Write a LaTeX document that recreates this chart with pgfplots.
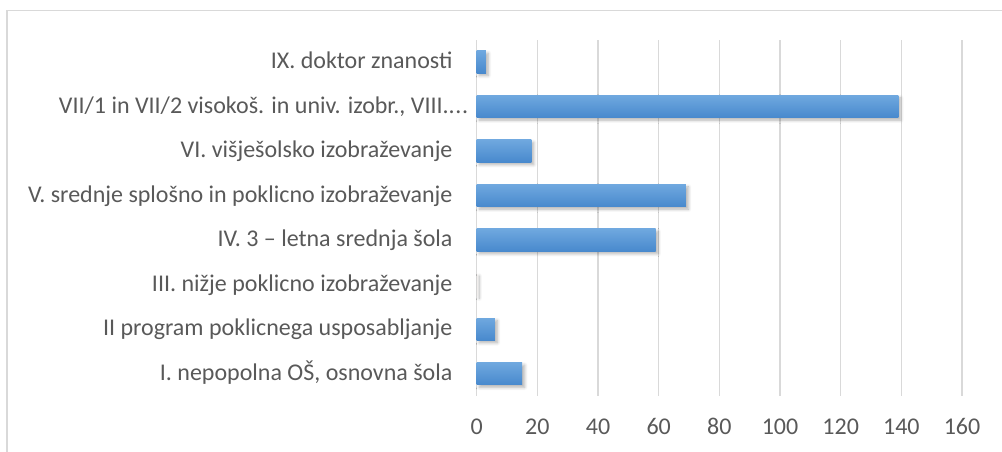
\documentclass[border=0pt]{standalone}
\usepackage{fontspec}
\setmainfont{Carlito}
\usepackage{pgfplots}
\pgfplotsset{compat=1.18}
\usetikzlibrary{shadows,shadows.blur}
\definecolor{txt}{HTML}{595959}
\definecolor{gridc}{HTML}{D9D9D9}
\definecolor{bartop}{HTML}{6FA8DF}
\definecolor{barbot}{HTML}{4889CD}
\newcommand{\dotsx}{.\kern0.03em.\kern0.03em.}
\begin{document}
\fontsize{24}{28}\selectfont
\begin{tikzpicture}[x=1pt,y=1pt]
\path[use as bounding box] (0,0) rectangle (1002,452);
\draw[gridc, line width=1.5pt] (7,0) -- (7,441.5) -- (1002,441.5);
\begin{axis}[
 at={(476.7pt,56pt)}, anchor=south west,
 scale only axis, width=485.3pt, height=356.3pt,
 xmin=0, xmax=160, ymin=-0.5, ymax=7.5,
 xtick={0,20,...,160},
 ytick={0,...,7},
 yticklabels={{I. nepopolna OŠ, osnovna šola},
   {II program poklicnega usposabljanje},
   {III. nižje poklicno izobraževanje},
   {IV. 3 -- letna srednja šola},
   {V. srednje splošno in poklicno izobraževanje},
   {VI. višješolsko izobraževanje},
   {VII/1 in VII/2 visokoš. in univ. izobr., VIII.\dotsx\hspace*{-16pt}},
   {IX. doktor znanosti}},
 axis line style={draw=none},
 xmajorgrids, grid style={gridc, line width=1.5pt},
 major tick length=0pt,
 tick label style={txt, font=\fontsize{24}{28}\selectfont},
 xticklabel style={anchor=base, yshift=-39pt},
 yticklabel style={anchor=base east, inner sep=0pt, xshift=-24pt, yshift=-6.5pt},
 /pgf/number format/assume math mode=true,
 xbar, bar width=22.3pt, bar shift=0pt,
 clip=false,
 every axis plot/.append style={draw=none, top color=bartop, bottom color=barbot,
   blur shadow={shadow xshift=2.5pt, shadow yshift=-2.5pt, shadow blur steps=6,
   shadow blur radius=3pt, shadow opacity=30}},
]
\addplot coordinates {(15,0)};
\addplot coordinates {(6,1)};
\addplot coordinates {(0,2)};
\addplot coordinates {(59,3)};
\addplot coordinates {(69,4)};
\addplot coordinates {(18,5)};
\addplot coordinates {(139,6)};
\addplot coordinates {(3,7)};
\end{axis}
\end{tikzpicture}
\end{document}
